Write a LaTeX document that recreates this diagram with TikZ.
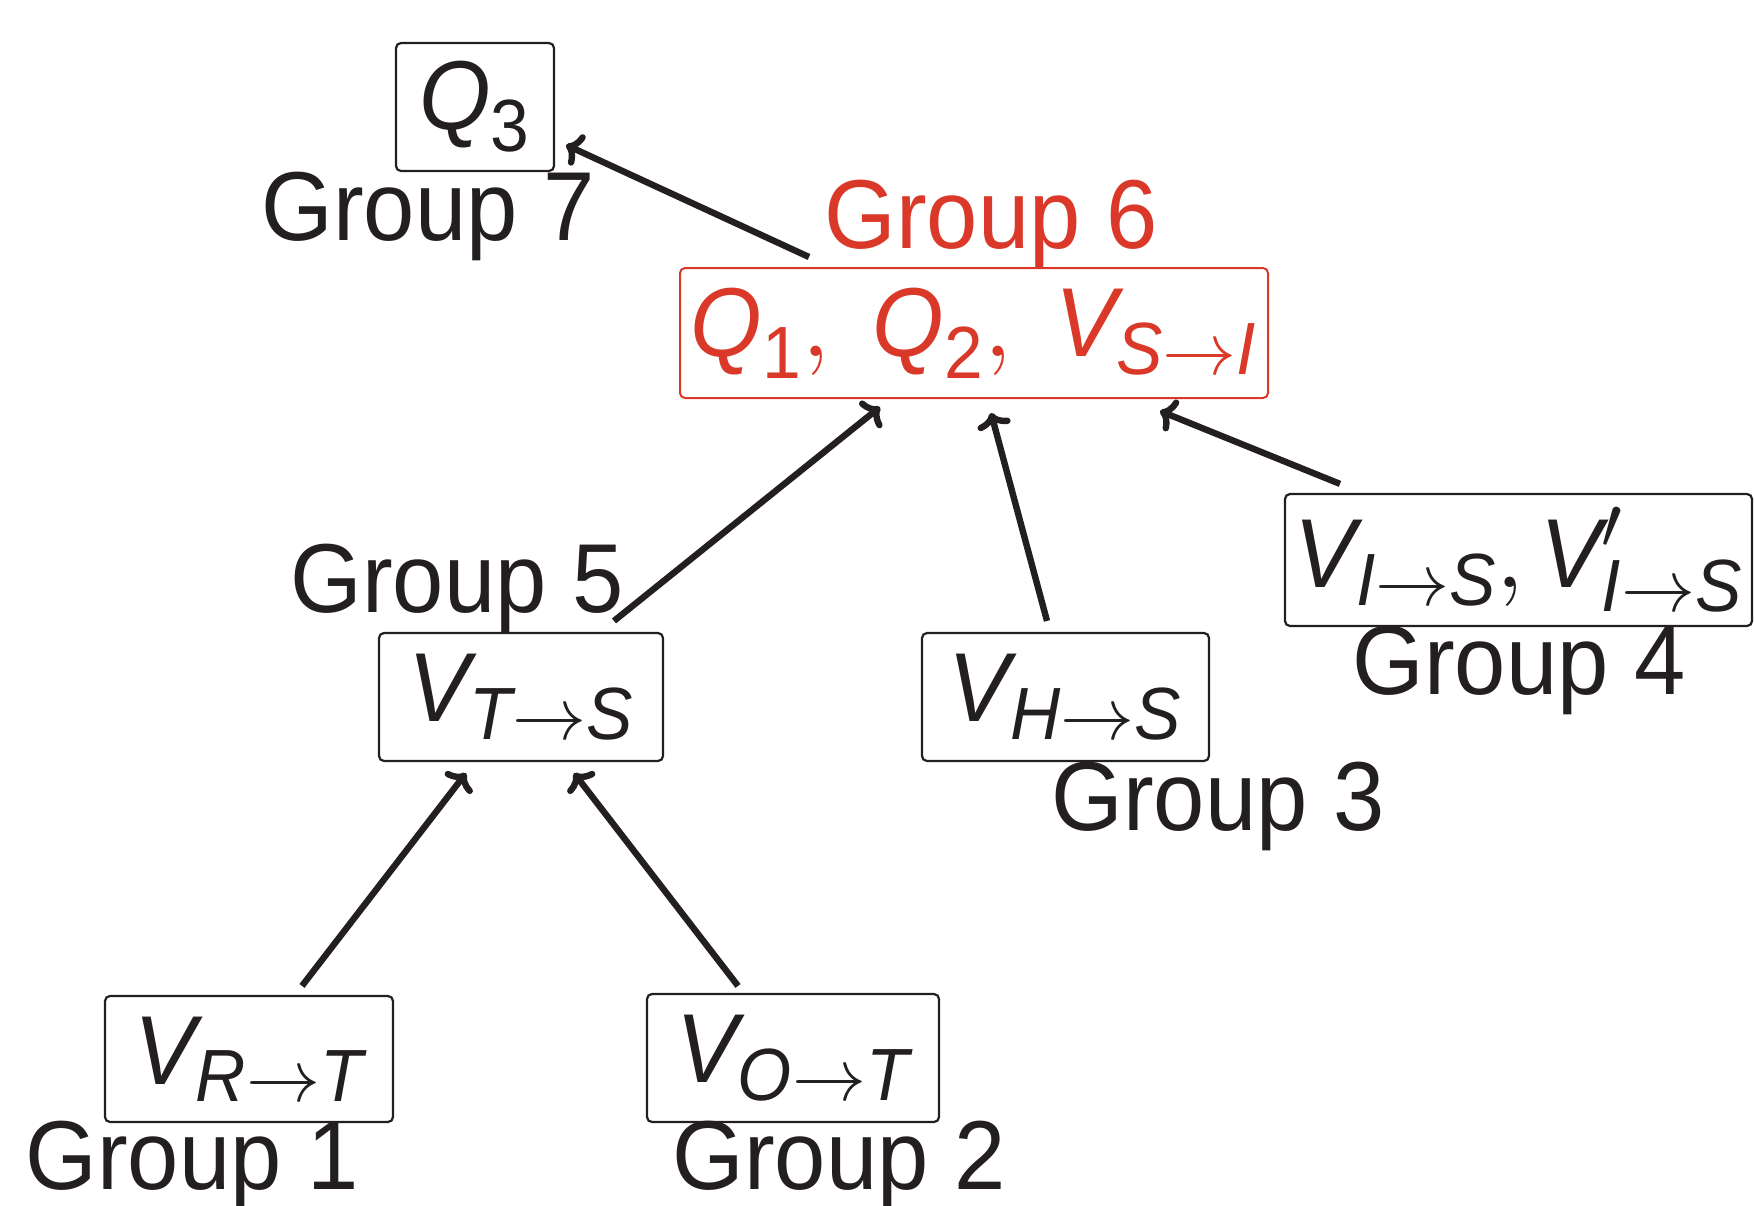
\documentclass[tikz,border=0pt]{standalone}
\usepackage{amsmath}
\usepackage{fontspec}
\setmainfont{Liberation Sans}[FakeStretch=0.94]
\DeclareFontShape{OMS}{cmsy}{m}{n}{<->cmsy10}{}
\DeclareFontShape{OML}{cmm}{m}{it}{<->cmmi10}{}
\DeclareMathSizes{49}{49}{37}{27}
\usetikzlibrary{arrows.meta}
\definecolor{gred}{RGB}{218,56,40}
\definecolor{ink}{RGB}{35,31,32}
\newcommand{\mi}[1]{\text{\itshape #1}}
\newcommand{\nm}[1]{\text{#1}}
\begin{document}
\begin{tikzpicture}[x=0.5pt,y=-0.5pt,
  every node/.style={font=\fontsize{49}{56}\selectfont},
  box/.style={draw=ink, line width=1.1pt, rounded corners=2.5pt, inner sep=0pt, text=ink},
  rbox/.style={draw=gred, line width=1pt, rounded corners=2.5pt, inner sep=0pt, text=gred},
  lbl/.style={anchor=base, inner sep=0pt, text=ink},
  arr/.style={draw=ink, line width=3.2pt, -{To[length=7.5pt,width=17pt]}}]
\useasboundingbox (0,0) rectangle (1754,1205);

% boxes
\node[box, minimum width=79pt, minimum height=64pt] (q3) at (475,107) {$\mi{Q}_{\nm{3}}$};
\node[rbox, minimum width=294pt, minimum height=65pt] (g6) at (974,333)
  {$\mi{Q}_{\nm{1}},\;\mi{Q}_{\nm{2}},\;\mi{V}_{\mi{S}\rightarrow\mi{I}}$};
\node[box, minimum width=142pt, minimum height=64pt] (vts) at (521,697)
  {$\mi{V}_{\mi{T}\rightarrow\mi{S}}$};
\node[box, minimum width=143.5pt, minimum height=64pt] (vhs) at (1065.5,697)
  {$\mi{V}_{\mi{H}\rightarrow\mi{S}}$};
\node[box, minimum width=233.5pt, minimum height=66pt] (vis) at (1518.5,560)
  {$\mi{V}_{\mi{I}\rightarrow\mi{S}}, \mi{V}'_{\mi{I}\rightarrow\mi{S}}$};
\node[box, minimum width=144pt, minimum height=63pt] (vrt) at (249,1059)
  {$\mi{V}_{\mi{R}\rightarrow\mi{T}}$};
\node[box, minimum width=146pt, minimum height=64pt] (vot) at (793,1058)
  {$\mi{V}_{\mi{O}\rightarrow\mi{T}}$};

% group labels
\node[lbl] (l7) at (428,240) {Group 7};
\node[lbl, text=gred] (l6) at (991,248) {Group 6};
\node[lbl] (l5) at (457,612) {Group 5};
\node[lbl] (l3) at (1218,830) {Group 3};
\node[lbl] (l4) at (1519,694) {Group 4};
\node[lbl] (l1) at (192,1189) {Group 1};
\node[lbl] (l2) at (839,1189) {Group 2};

% connectors
\draw[arr] ([shift={(-165,-10)}]g6.north) -- ([shift={(11,38)}]q3.east);
\draw[arr] ([shift={(93,-11)}]vts.north) -- ([shift={(-94,8)}]g6.south);
\draw[arr] ([shift={(-18.5,-11)}]vhs.north) -- ([shift={(17,14)}]g6.south);
\draw[arr] ([shift={(-178.5,-9)}]vis.north) -- ([shift={(186,12)}]g6.south);
\draw[arr] ([shift={(53,-9)}]vrt.north) -- ([shift={(-55,11)}]vts.south);
\draw[arr] ([shift={(-55,-7)}]vot.north) -- ([shift={(53,11)}]vts.south);
\end{tikzpicture}
\end{document}
